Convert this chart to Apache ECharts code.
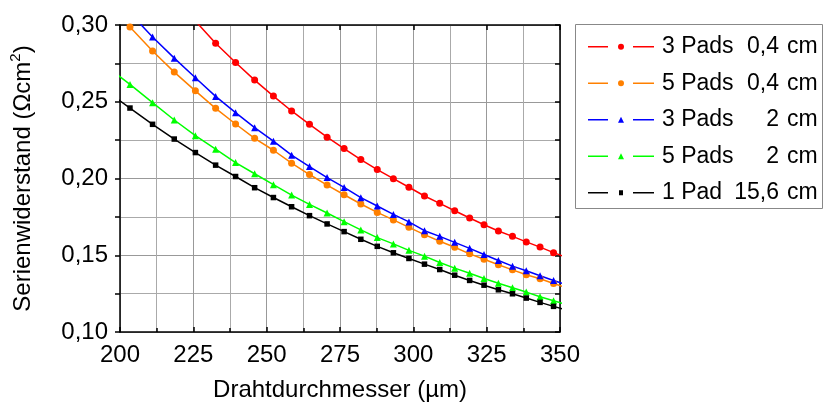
<!DOCTYPE html>
<html>
<head>
<meta charset="utf-8">
<script src="https://cdn.jsdelivr.net/npm/echarts@6/dist/echarts.min.js"></script>
<style>
  html, body { margin: 0; padding: 0; background: #fff; }
  #grafico { width: 827px; height: 407px; }
</style>
</head>
<body>
<div id="grafico"></div>
<script>
// Drahtdurchmesser (µm), gemeinsame Stützstellen aller Kurven
const durchmesser = [195.4, 203.4, 211.1, 218.5, 225.7, 232.6, 239.4, 245.9, 252.3, 258.5,
  264.6, 270.6, 276.4, 282.1, 287.7, 293.2, 298.5, 303.8, 309.0, 314.1,
  319.2, 324.1, 329.0, 333.8, 338.5, 343.2, 347.8, 352.3];

// Serienwiderstand (Ωcm²) je Kurve
const pads3_04 = [null, null, null, null, 0.3026, 0.2881, 0.2756, 0.2641, 0.2537, 0.2440,
  0.2353, 0.2269, 0.2195, 0.2123, 0.2058, 0.1999, 0.1943, 0.1886, 0.1838, 0.1790,
  0.1743, 0.1699, 0.1658, 0.1623, 0.1587, 0.1553, 0.1517, 0.1485];
const pads5_04 = [0.3160, 0.2987, 0.2831, 0.2693, 0.2571, 0.2457, 0.2355, 0.2262, 0.2184, 0.2100,
  0.2026, 0.1957, 0.1894, 0.1834, 0.1779, 0.1730, 0.1682, 0.1634, 0.1591, 0.1552,
  0.1509, 0.1474, 0.1438, 0.1405, 0.1373, 0.1347, 0.1316, 0.1288];
const pads3_2 = [null, 0.3078, 0.2922, 0.2784, 0.2656, 0.2535, 0.2429, 0.2331, 0.2243, 0.2152,
  0.2078, 0.2006, 0.1942, 0.1875, 0.1821, 0.1766, 0.1717, 0.1660, 0.1623, 0.1584,
  0.1545, 0.1505, 0.1466, 0.1429, 0.1399, 0.1366, 0.1336, 0.1307];
const pads5_2 = [0.2730, 0.2613, 0.2494, 0.2381, 0.2279, 0.2191, 0.2104, 0.2031, 0.1960, 0.1892,
  0.1831, 0.1775, 0.1719, 0.1665, 0.1615, 0.1574, 0.1532, 0.1494, 0.1453, 0.1416,
  0.1383, 0.1349, 0.1318, 0.1288, 0.1260, 0.1230, 0.1203, 0.1178];
const pad1_156 = [0.2570, 0.2459, 0.2353, 0.2257, 0.2169, 0.2087, 0.2013, 0.1940, 0.1876, 0.1816,
  0.1758, 0.1704, 0.1654, 0.1604, 0.1558, 0.1516, 0.1479, 0.1442, 0.1407, 0.1370,
  0.1336, 0.1305, 0.1275, 0.1249, 0.1221, 0.1193, 0.1167, 0.1143];

// Legende
const nomes = ["3 Pads 0,4 cm", "5 Pads 0,4 cm", "3 Pads 2 cm", "5 Pads 2 cm", "1 Pad 15,6 cm"];
const padTexte = ["3 Pads", "5 Pads", "3 Pads", "5 Pads", "1 Pad"];
const laengen = ["0,4", "0,4", "2", "2", "15,6"];
const cores = ["#ff0000", "#ff8000", "#0000ff", "#00ff00", "#000000"];
const simbolos = ["circle", "circle", "triangle", "triangle", "rect"];
const reihen = [pads3_04, pads5_04, pads3_2, pads5_2, pad1_156];

const fonte = "Liberation Sans, Arial, sans-serif";

// Legenden-Icons: Linie - Marker - Linie
const linhas = "M0,2.25h20v1.5h-20zM45,2.25h21v1.5h-21z";
const icones = {
  circle: "path://" + linhas + "M30,3a3,3 0 1,0 6,0a3,3 0 1,0 -6,0z",
  triangle: "path://" + linhas + "M30,6L33,0L36,6z",
  rect: "path://" + linhas + "M31,0.5h4v5h-4z",
};

let chart = echarts.init(document.getElementById("grafico"));

const eixoX = {
  type: "value", min: 200, max: 350, interval: 25,
  axisLine: { lineStyle: { color: "#000", width: 1.5 } },
  axisTick: { inside: true, length: 5, lineStyle: { color: "#000", width: 1.5 } },
};
const eixoY = {
  type: "value", min: 0.1, max: 0.3, interval: 0.05,
  axisLine: { show: true, lineStyle: { color: "#000", width: 1.5 } },
};

chart.setOption({
  animation: false,
  textStyle: { fontFamily: fonte },
  grid: { left: 113, right: 267, top: 25, bottom: 74 },
  graphic: [{
    type: "rect",
    shape: { x: 575.5, y: 24.5, width: 247, height: 184 },
    style: { fill: "none", stroke: "#888", lineWidth: 1 },
  }],
  legend: {
    orient: "vertical",
    left: 588, top: 34.7,
    padding: 0,
    itemWidth: 66, itemHeight: 6, itemGap: 12.5,
    data: nomes.map((n, i) => ({ name: n, icon: icones[simbolos[i]] })),
    formatter: (name) => {
      const i = nomes.indexOf(name);
      return `{a|${padTexte[i]}}{b|${laengen[i]}}{c|cm}`;
    },
    textStyle: {
      fontFamily: fonte, fontSize: 23, color: "#000", lineHeight: 24,
      rich: {
        a: { fontFamily: fonte, fontSize: 23, width: 72, align: "left", padding: [0, 0, 0, 3] },
        b: { fontFamily: fonte, fontSize: 23, width: 45, align: "right" },
        c: { fontFamily: fonte, fontSize: 23, align: "right", padding: [0, 0, 0, 8] },
      },
    },
  },
  xAxis: [
    {
      ...eixoX,
      position: "bottom",
      minorTick: { show: true, splitNumber: 2, length: 4, lineStyle: { color: "#000", width: 1.5 } },
      splitLine: { show: true, lineStyle: { color: "#999", width: 1 } },
      minorSplitLine: { show: true, lineStyle: { color: "#aaa", width: 1 } },
      axisLabel: { fontSize: 24, color: "#000", margin: 11, fontFamily: fonte },
      name: "Drahtdurchmesser (µm)",
      nameLocation: "middle",
      nameGap: 46,
      nameTextStyle: { fontSize: 24, color: "#000", fontFamily: fonte },
    },
    {
      ...eixoX,
      position: "top",
      axisLabel: { show: false },
      splitLine: { show: false },
    },
  ],
  yAxis: [
    {
      ...eixoY,
      position: "left",
      axisTick: { inside: false, length: 5, lineStyle: { color: "#000", width: 1.5 } },
      minorTick: { show: true, splitNumber: 2, length: 5, lineStyle: { color: "#000", width: 1.5 } },
      splitLine: { show: true, lineStyle: { color: "#999", width: 1 } },
      minorSplitLine: { show: true, lineStyle: { color: "#aaa", width: 1 } },
      axisLabel: {
        fontSize: 24, color: "#000", margin: 12, fontFamily: fonte,
        formatter: (v) => v.toFixed(2).replace(".", ","),
      },
      name: "{a|Serienwiderstand (Ωcm}{s|2}{a|)}",
      nameLocation: "middle",
      nameGap: 82,
      nameTextStyle: {
        color: "#000",
        rich: {
          a: { fontFamily: fonte, fontSize: 24, lineHeight: 30, color: "#000" },
          s: { fontFamily: fonte, fontSize: 15, lineHeight: 16, verticalAlign: "top", color: "#000" },
        },
      },
    },
    {
      ...eixoY,
      position: "right",
      axisTick: { inside: true, length: 5, lineStyle: { color: "#000", width: 1.5 } },
      minorTick: { show: true, splitNumber: 2, length: 5, lineStyle: { color: "#000", width: 1.5 } },
      axisLabel: { show: false },
      splitLine: { show: false },
    },
  ],
  series: reihen.map((werte, i) => ({
    name: nomes[i],
    type: "line",
    xAxisIndex: 0,
    yAxisIndex: 0,
    data: durchmesser.map((d, k) => [d, werte[k]]),
    symbol: simbolos[i],
    symbolSize: simbolos[i] === "rect" ? 5.5 : 7,
    clip: true,
    lineStyle: { color: cores[i], width: 1.5 },
    itemStyle: { color: cores[i] },
  })),
});
</script>
</body>
</html>
